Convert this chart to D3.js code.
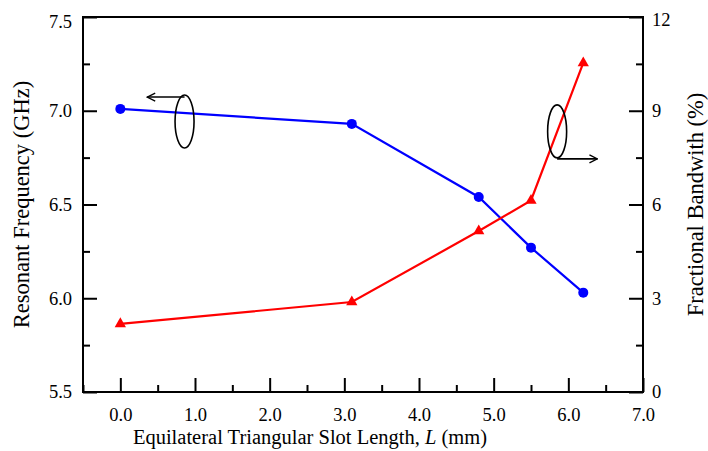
<!DOCTYPE html>
<meta charset="utf-8">
<script src="https://d3js.org/d3.v7.min.js"></script>
<style>
  body { margin: 0; background: #fff; }
</style>
<div id="chart"></div>
<script>
  // slot length L (mm)
  const slotLength = [0.0, 3.1, 4.8, 5.5, 6.2];
  // resonant frequency (GHz), left axis
  const resFreq = [7.01, 6.93, 6.54, 6.27, 6.03];
  // fractional bandwidth (%), right axis
  const fracBw = [2.18, 2.88, 5.15, 6.13, 10.53];

  const xTicks = [0, 1, 2, 3, 4, 5, 6, 7];
  const yLeftTicks = [5.5, 6.0, 6.5, 7.0, 7.5];
  const yRightTicks = [0, 3, 6, 9, 12];

  const FONT = '"Liberation Serif"';
  const width = 708, height = 451;
  const margin = {top: 17, right: 65, bottom: 59, left: 83};
  const w = width - margin.left - margin.right,
        h = height - margin.top - margin.bottom;

  const svg = d3.select('#chart').append('svg')
                .attr('width', width)
                .attr('height', height);
  const g = svg.append('g').attr('transform', `translate(${margin.left},${margin.top})`);

  const x = d3.scaleLinear().domain([-0.5, 7.0]).range([0, w]);
  const yL = d3.scaleLinear().domain([5.5, 7.5]).range([h, 0]);
  const yR = d3.scaleLinear().domain([0, 12]).range([h, 0]);

  // minor ticks (inward), drawn without labels
  function minor(axis, scale, vals) {
    return axis(scale).tickValues(vals).tickSize(-7).tickFormat('');
  }
  const xMinor = d3.range(-0.5, 7.01, 0.5).filter(v => !xTicks.includes(v));
  const yLMinor = [5.75, 6.25, 6.75, 7.25];
  const yRMinor = [1.5, 4.5, 7.5, 10.5];

  g.append('g').attr('transform', `translate(0,${h})`)
    .call(minor(d3.axisBottom, x, xMinor));
  g.append('g').call(minor(d3.axisLeft, yL, yLMinor));
  g.append('g').attr('transform', `translate(${w},0)`)
    .call(minor(d3.axisRight, yR, yRMinor));

  g.append('g').attr('transform', `translate(0,${h})`)
    .call(d3.axisBottom(x).tickValues(xTicks).tickSize(-14).tickPadding(16).tickFormat(d3.format('.1f')));
  const left = g.append('g')
    .call(d3.axisLeft(yL).tickValues(yLeftTicks).tickSize(-14).tickPadding(11).tickFormat(d3.format('.1f')));
  const right = g.append('g').attr('transform', `translate(${w},0)`)
    .call(d3.axisRight(yR).tickValues(yRightTicks).tickSize(-14).tickPadding(9).tickFormat(d3.format('d')));

  g.selectAll('.domain').remove();
  g.selectAll('.tick line').attr('stroke', '#000').attr('stroke-width', 2);
  g.selectAll('.tick text')
    .style('font-family', FONT).style('font-size', '18.5px').attr('fill', '#000');
  // top labels sit a little lower in the original
  left.selectAll('.tick text').filter(d => d === 7.5).attr('dy', '0.55em');
  right.selectAll('.tick text').filter(d => d === 12).attr('dy', '0.45em');

  // frame
  g.append('rect').attr('width', w).attr('height', h)
    .attr('fill', 'none').attr('stroke', '#000').attr('stroke-width', 2);

  // series
  const blueLine = d3.line().x((d, i) => x(slotLength[i])).y(d => yL(d));
  const redLine = d3.line().x((d, i) => x(slotLength[i])).y(d => yR(d));

  g.append('path').datum(resFreq).attr('d', blueLine)
    .attr('fill', 'none').attr('stroke', '#0000ff').attr('stroke-width', 2.2);
  g.append('path').datum(fracBw).attr('d', redLine)
    .attr('fill', 'none').attr('stroke', '#ff0000').attr('stroke-width', 2.2);

  g.selectAll('.dot').data(resFreq).enter().append('circle')
    .attr('cx', (d, i) => x(slotLength[i])).attr('cy', d => yL(d))
    .attr('r', 5).attr('fill', '#0000ff');
  g.selectAll('.tri').data(fracBw).enter().append('path')
    .attr('d', d3.symbol().type(d3.symbolTriangle).size(55))
    .attr('transform', (d, i) => `translate(${x(slotLength[i])},${yR(d)})`)
    .attr('fill', '#ff0000');

  // annotation: ellipses with arrows pointing to each axis
  svg.append('defs').append('marker')
    .attr('id', 'arr').attr('viewBox', '0 0 10 10').attr('refX', 9).attr('refY', 5)
    .attr('markerWidth', 10).attr('markerHeight', 10).attr('markerUnits', 'userSpaceOnUse')
    .attr('orient', 'auto')
    .append('path').attr('d', 'M1,1 L9,5 L1,9').attr('fill', 'none').attr('stroke', '#000').attr('stroke-width', 1.3);

  const ann = g.append('g').attr('fill', 'none').attr('stroke', '#000').attr('stroke-width', 1.6);
  ann.append('ellipse').attr('cx', x(0.86)).attr('cy', yL(6.943)).attr('rx', 9.5).attr('ry', 26.5);
  ann.append('line').attr('x1', x(0.86)).attr('y1', yL(7.073)).attr('x2', x(0.36)).attr('y2', yL(7.073))
    .attr('marker-end', 'url(#arr)');
  ann.append('ellipse').attr('cx', x(5.85)).attr('cy', yR(8.34)).attr('rx', 9.5).attr('ry', 26.5);
  ann.append('line').attr('x1', x(5.85)).attr('y1', yR(7.46)).attr('x2', x(6.39)).attr('y2', yR(7.46))
    .attr('marker-end', 'url(#arr)');

  // axis titles
  const xt = svg.append('text').attr('x', 310).attr('y', 444)
    .attr('text-anchor', 'middle').style('font-family', FONT).style('font-size', '20.5px');
  xt.append('tspan').text('Equilateral Triangular Slot Length, ');
  xt.append('tspan').attr('font-style', 'italic').text('L');
  xt.append('tspan').text(' (mm)');

  svg.append('text').attr('transform', `translate(29,${margin.top + h / 2}) rotate(-90)`)
    .attr('text-anchor', 'middle').style('font-family', FONT).style('font-size', '22.5px')
    .text('Resonant Frequency (GHz)');
  svg.append('text').attr('transform', `translate(703,${margin.top + h / 2}) rotate(-90)`)
    .attr('text-anchor', 'middle').style('font-family', FONT).style('font-size', '22.5px')
    .text('Fractional Bandwith (%)');
</script>
